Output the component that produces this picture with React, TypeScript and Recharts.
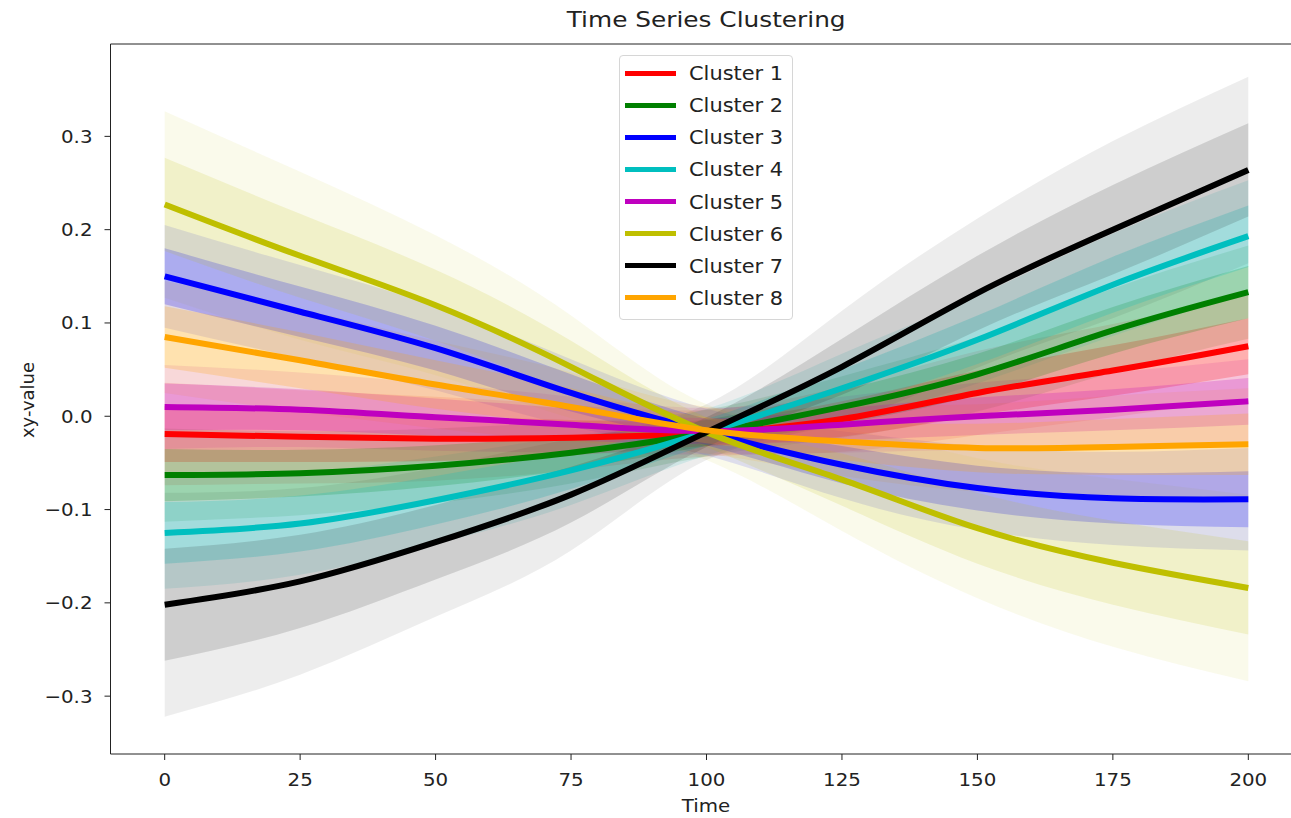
import {
  Area,
  ComposedChart,
  Line,
  ReferenceLine,
  XAxis,
  YAxis,
} from "recharts";

const times = [0, 25, 50, 75, 100, 125, 150, 175, 200];

const clusterNames = [
  "Cluster 1",
  "Cluster 2",
  "Cluster 3",
  "Cluster 4",
  "Cluster 5",
  "Cluster 6",
  "Cluster 7",
  "Cluster 8",
];
const clusterColors = [
  "#ff0000",
  "#008000",
  "#0000ff",
  "#00bfbf",
  "#bf00bf",
  "#bfbf00",
  "#000000",
  "#ffa500",
];

// cluster centres (mean curves)
const cluster1 = [-0.019, -0.022, -0.024, -0.023, -0.018, -0.003, 0.025, 0.049, 0.075];
const cluster2 = [-0.063, -0.061, -0.053, -0.039, -0.018, 0.01, 0.045, 0.092, 0.133];
const cluster3 = [0.15, 0.112, 0.073, 0.025, -0.017, -0.052, -0.077, -0.088, -0.089];
const cluster4 = [-0.125, -0.115, -0.09, -0.058, -0.017, 0.03, 0.082, 0.141, 0.193];
const cluster5 = [0.01, 0.007, -0.001, -0.009, -0.016, -0.009, 0.0, 0.007, 0.016];
const cluster6 = [0.227, 0.172, 0.119, 0.053, -0.017, -0.068, -0.12, -0.157, -0.184];
const cluster7 = [-0.202, -0.177, -0.135, -0.084, -0.017, 0.053, 0.132, 0.2, 0.264];
const cluster8 = [0.085, 0.06, 0.034, 0.01, -0.015, -0.027, -0.034, -0.033, -0.03];

// half-width of the faint envelope of member lines around each centre
const outer1 = [0.055, 0.05, 0.045, 0.035, 0.025, 0.035, 0.045, 0.05, 0.055];
const outer2 = [0.05, 0.045, 0.04, 0.033, 0.025, 0.033, 0.04, 0.045, 0.05];
const outer3 = [0.055, 0.05, 0.045, 0.036, 0.025, 0.036, 0.045, 0.05, 0.055];
const outer4 = [0.06, 0.055, 0.047, 0.037, 0.025, 0.037, 0.047, 0.055, 0.06];
const outer5 = [0.045, 0.04, 0.036, 0.03, 0.025, 0.03, 0.036, 0.04, 0.045];
const outer6 = [0.1, 0.09, 0.075, 0.055, 0.03, 0.055, 0.075, 0.09, 0.1];
const outer7 = [0.12, 0.1, 0.08, 0.06, 0.03, 0.06, 0.08, 0.095, 0.1];
const outer8 = [0.06, 0.055, 0.047, 0.037, 0.025, 0.037, 0.047, 0.055, 0.06];

// half-width of the dense core of member lines
const inner1 = [0.03, 0.027, 0.024, 0.019, 0.014, 0.019, 0.024, 0.027, 0.03];
const inner2 = [0.028, 0.025, 0.022, 0.018, 0.014, 0.018, 0.022, 0.025, 0.028];
const inner3 = [0.03, 0.027, 0.024, 0.02, 0.014, 0.02, 0.024, 0.027, 0.03];
const inner4 = [0.033, 0.03, 0.026, 0.02, 0.014, 0.02, 0.026, 0.03, 0.033];
const inner5 = [0.025, 0.022, 0.02, 0.017, 0.014, 0.017, 0.02, 0.022, 0.025];
const inner6 = [0.05, 0.045, 0.038, 0.028, 0.016, 0.028, 0.038, 0.045, 0.05];
const inner7 = [0.06, 0.05, 0.04, 0.03, 0.016, 0.03, 0.04, 0.048, 0.05];
const inner8 = [0.033, 0.03, 0.026, 0.02, 0.014, 0.02, 0.026, 0.03, 0.033];

const outerOpacity = [0.12, 0.12, 0.12, 0.12, 0.12, 0.08, 0.07, 0.12];
const innerOpacity = [0.22, 0.2, 0.22, 0.22, 0.22, 0.14, 0.13, 0.22];

const xTicks = [0, 25, 50, 75, 100, 125, 150, 175, 200];
const yTicks = [-0.3, -0.2, -0.1, 0.0, 0.1, 0.2, 0.3];

const centres = [cluster1, cluster2, cluster3, cluster4, cluster5, cluster6, cluster7, cluster8];
const outers = [outer1, outer2, outer3, outer4, outer5, outer6, outer7, outer8];
const inners = [inner1, inner2, inner3, inner4, inner5, inner6, inner7, inner8];

const data = times.map((t, i) => {
  const row: Record<string, number | number[]> = { t };
  centres.forEach((c, k) => {
    row[`c${k + 1}`] = c[i];
    row[`o${k + 1}`] = [c[i] - outers[k][i], c[i] + outers[k][i]];
    row[`i${k + 1}`] = [c[i] - inners[k][i], c[i] + inners[k][i]];
  });
  return row;
});

const FONT = "'DejaVu Sans', sans-serif";
const Y_MIN = -0.362;
const Y_MAX = 0.399;
const STRETCH = 1.1;

const fmtY = (v: number) => (v < 0 ? "\u2212" : "") + Math.abs(v).toFixed(1);

const XTick = (props: any) => {
  const { x, y, payload } = props;
  return (
    <g transform={`translate(${x},${y})`}>
      <text
        transform={`scale(${STRETCH},1)`}
        textAnchor="middle"
        dy="0.71em"
        y={11}
        fill="#222"
        fontSize={18}
        fontFamily={FONT}
      >
        {payload.value}
      </text>
    </g>
  );
};

const YTick = (props: any) => {
  const { x, y, payload } = props;
  return (
    <g transform={`translate(${x - 10},${y})`}>
      <text
        transform={`scale(${STRETCH},1)`}
        textAnchor="end"
        dy="0.355em"
        fill="#222"
        fontSize={18}
        fontFamily={FONT}
      >
        {fmtY(payload.value)}
      </text>
    </g>
  );
};

const stretched = (sx: number): React.CSSProperties => ({
  display: "inline-block",
  transform: `scaleX(${sx})`,
});

const LegendBox = () => (
  <div
    style={{
      position: "absolute",
      left: 619,
      top: 55,
      width: 172,
      border: "1px solid #d6d6d6",
      borderRadius: 4,
      background: "rgba(255,255,255,0.8)",
      padding: "1px 0 5px 0",
      fontFamily: FONT,
      fontSize: 19,
      color: "#222",
    }}
  >
    {clusterNames.map((name, k) => (
      <div key={name} style={{ height: 32.14, display: "flex", alignItems: "center" }}>
        <span
          style={{
            display: "inline-block",
            width: 51,
            height: 5,
            marginLeft: 5,
            marginRight: 13,
            background: clusterColors[k],
          }}
        />
        <span style={{ ...stretched(1.1), transformOrigin: "left center" }}>{name}</span>
      </div>
    ))}
  </div>
);

export default function App() {
  return (
    <div
      style={{
        position: "absolute",
        left: 0,
        top: 0,
        width: 1291,
        height: 818,
        overflow: "hidden",
        background: "#fff",
      }}
    >
      <ComposedChart
        width={1320}
        height={818}
        data={data}
        margin={{ top: 44, right: 17.5, bottom: 28, left: 0 }}
      >
        <XAxis
          dataKey="t"
          type="number"
          domain={[-10, 210]}
          ticks={xTicks}
          height={36}
          tickSize={6}
          stroke="#222"
          tick={<XTick />}
        />
        <YAxis
          type="number"
          domain={[Y_MIN, Y_MAX]}
          ticks={yTicks}
          allowDataOverflow
          width={110.5}
          tickSize={6}
          stroke="#222"
          tick={<YTick />}
        />
        <ReferenceLine y={Y_MAX} stroke="#222" />
        <ReferenceLine x={210} stroke="#222" />
        {clusterNames.map((name, k) => (
          <Area
            key={`outer-${name}`}
            dataKey={`o${k + 1}`}
            type="natural"
            stroke="none"
            fill={clusterColors[k]}
            fillOpacity={outerOpacity[k]}
            legendType="none"
            isAnimationActive={false}
          />
        ))}
        {clusterNames.map((name, k) => (
          <Area
            key={`inner-${name}`}
            dataKey={`i${k + 1}`}
            type="natural"
            stroke="none"
            fill={clusterColors[k]}
            fillOpacity={innerOpacity[k]}
            legendType="none"
            isAnimationActive={false}
          />
        ))}
        {clusterNames.map((name, k) => (
          <Line
            key={name}
            dataKey={`c${k + 1}`}
            name={name}
            type="natural"
            stroke={clusterColors[k]}
            strokeWidth={6}
            dot={false}
            isAnimationActive={false}
          />
        ))}
      </ComposedChart>
      <LegendBox />
      <div
        style={{
          position: "absolute",
          left: 406.5,
          width: 600,
          top: 9,
          textAlign: "center",
          fontFamily: FONT,
          fontSize: 21,
          lineHeight: "22px",
          color: "#222",
        }}
      >
        <span style={stretched(1.18)}>Time Series Clustering</span>
      </div>
      <div
        style={{
          position: "absolute",
          left: 606.5,
          width: 200,
          top: 797,
          textAlign: "center",
          fontFamily: FONT,
          fontSize: 18,
          lineHeight: "18px",
          color: "#222",
        }}
      >
        <span style={stretched(1.1)}>Time</span>
      </div>
      <div
        style={{
          position: "absolute",
          left: 28 - 100,
          top: 400 - 9,
          width: 200,
          textAlign: "center",
          transform: "rotate(-90deg)",
          fontFamily: FONT,
          fontSize: 18,
          lineHeight: "18px",
          color: "#222",
        }}
      >
        xy-value
      </div>
    </div>
  );
}
